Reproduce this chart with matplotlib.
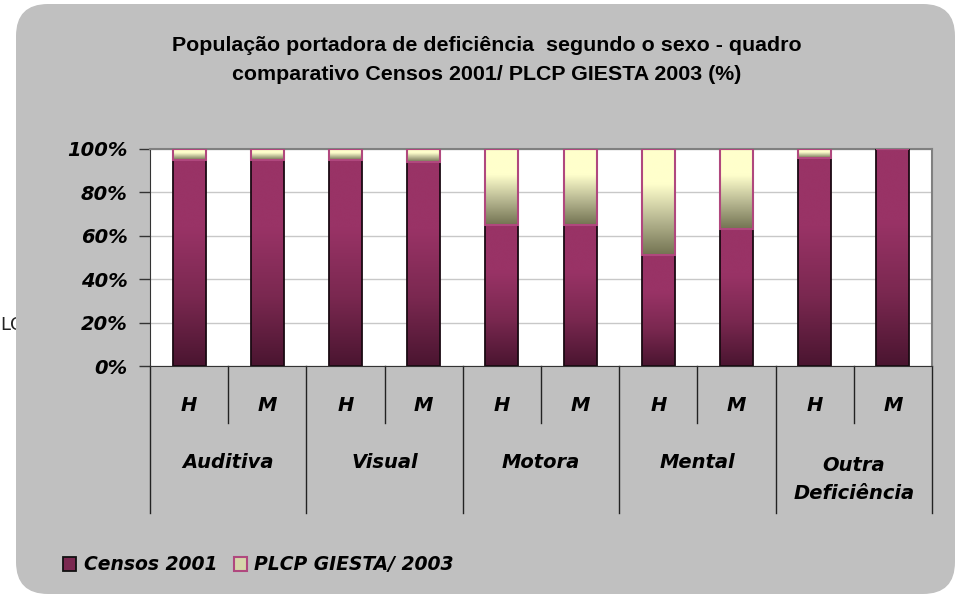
import numpy as np
import matplotlib
matplotlib.use("Agg")
import matplotlib.pyplot as plt
from matplotlib.patches import FancyBboxPatch, Patch
from matplotlib.colors import LinearSegmentedColormap

# Data
SEXES = ["H", "M", "H", "M", "H", "M", "H", "M", "H", "M"]
GROUPS = ["Auditiva", "Visual", "Motora", "Mental", "Outra\nDeficiência"]
CENSOS_2001 = [95, 95, 95, 94, 65, 65, 51, 63, 96, 100]
PLCP_2003 = [5, 5, 5, 6, 35, 35, 49, 37, 4, 0]
Y_TICKS = [0, 20, 40, 60, 80, 100]

TITLE = ("População portadora de deficiência  segundo o sexo - quadro\n"
         "comparativo Censos 2001/ PLCP GIESTA 2003 (%)")

W, H = 955, 594
LABEL_FONT = dict(family="DejaVu Sans", weight="bold", style="italic", size=14)

censos_cmap = LinearSegmentedColormap.from_list("censos", ["#4a1530", "#7a2850", "#993366", "#993366"])
plcp_cmap = LinearSegmentedColormap.from_list("plcp", ["#737352", "#b8b892", "#ffffcc", "#ffffcc"])


def gradient_fill(ax, bars, cmap):
    """Paint each bar with a vertical gradient clipped to the bar."""
    grad = np.linspace(0, 1, 256).reshape(-1, 1)
    for bar in bars:
        if bar.get_height() <= 0:
            continue
        x0, y0 = bar.get_x(), bar.get_y()
        im = ax.imshow(grad, cmap=cmap, origin="lower", aspect="auto",
                       extent=(x0, x0 + bar.get_width(), y0, y0 + bar.get_height()),
                       zorder=2, interpolation="bicubic")
        im.set_clip_path(bar)


fig = plt.figure(figsize=(W / 100, H / 100), dpi=100)
fig.patch.set_facecolor("white")

# rounded grey chart area (inches)
bg = FancyBboxPatch((0.16, 0.0), 9.39, 5.90,
                    boxstyle="round,pad=0,rounding_size=0.32", transform=fig.dpi_scale_trans,
                    facecolor="#c0c0c0", edgecolor="none", zorder=-1)
fig.patches.append(bg)
fig.text(0.5 / W, 1 - 325 / H, "LC", fontsize=13, color="#222222", va="center",
         ha="left", zorder=-2)

ax = fig.add_axes([150 / W, 1 - 366 / H, (932 - 150) / W, (366 - 149) / H])
ax.set_facecolor("white")

x = np.arange(len(SEXES))
width = 0.42
b1 = ax.bar(x, CENSOS_2001, width, color="none", edgecolor="#1a0a12", linewidth=1.3, zorder=3)
b2 = ax.bar(x, PLCP_2003, width, bottom=CENSOS_2001, color="none",
            edgecolor="#b0487e", linewidth=1.5, zorder=3)
gradient_fill(ax, b1, censos_cmap)
gradient_fill(ax, b2, plcp_cmap)

ax.set_xlim(-0.5, len(SEXES) - 0.5)
ax.set_ylim(0, 100)
ax.set_yticks(Y_TICKS)
ax.set_yticklabels([f"{t}%" for t in Y_TICKS], **LABEL_FONT)
ax.tick_params(axis="y", direction="out", length=8, width=1, pad=8, color="#333333")
ax.set_xticks([])
ax.yaxis.grid(True, color="#c8c8c8", linewidth=1)
ax.set_axisbelow(True)
for side in ["top", "right"]:
    ax.spines[side].set_color("#808080")
    ax.spines[side].set_linewidth(1.5)
ax.spines["left"].set_color("#333333")
ax.spines["bottom"].set_color("#333333")

# multi-level category axis
tr = ax.get_xaxis_transform()
for i in range(len(SEXES) + 1):
    xp = i - 0.5
    low = -0.677 if i % 2 == 0 else -0.263
    ax.plot([xp, xp], [0, low], transform=tr, color="#222222", lw=1, clip_on=False)
for i, s in enumerate(SEXES):
    ax.text(i, -0.18, s, transform=tr, ha="center", va="center", **LABEL_FONT)
for g, name in enumerate(GROUPS):
    xc = 2 * g + 0.5
    ax.text(xc, -0.525 if "\n" in name else -0.447, name, transform=tr, ha="center",
            va="center", linespacing=1.6, **LABEL_FONT)

fig.text(487 / W, 1 - 60 / H, TITLE, ha="center", va="center", family="Liberation Sans",
         weight="bold", fontsize=15.4, linespacing=1.7)

handles = [Patch(facecolor="#7a2850", edgecolor="#111111", linewidth=1.3),
           Patch(facecolor="#d6d6aa", edgecolor="#b0487e", linewidth=1.5)]
fig.legend(handles, ["Censos 2001", "PLCP GIESTA/ 2003"], loc="center left",
           bbox_to_anchor=(46 / W, 1 - 565 / H), ncol=2, frameon=False,
           handlelength=0.7, handleheight=0.7, handletextpad=0.4, columnspacing=0.9,
           prop=dict(family="DejaVu Sans", weight="bold", style="italic", size=13.5))

fig.savefig("out.png", dpi=100)
